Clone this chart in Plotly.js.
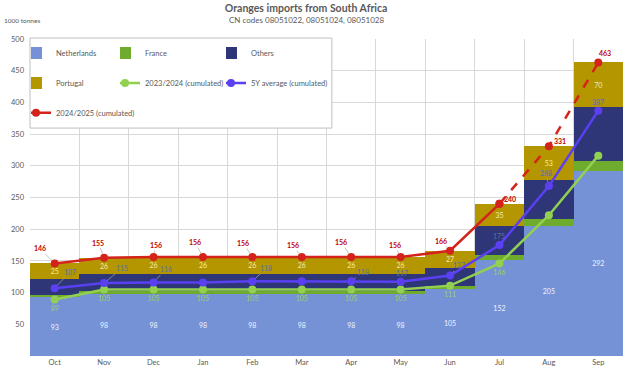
<!DOCTYPE html>
<html>
<head>
<meta charset="utf-8">
<script src="https://cdn.plot.ly/plotly-3.0.1.min.js"></script>
<style>html,body{margin:0;padding:0;background:#fff;}#chart{width:626px;height:372px;}</style>
</head>
<body>
<div id="chart"></div>
<script>
// ---- data ----
const months = ['Oct','Nov','Dec','Jan','Feb','Mar','Apr','May','Jun','Jul','Aug','Sep'];
const netherlands = [93,98,98,98,98,98,98,98,105,152,205,292];
const france = [4,4,4,4,4,4,4,4,5,7,11,16];
const others = [24,27,28,28,28,28,28,28,29,46,62,85];
const portugal = [25,26,26,26,26,26,26,26,27,35,53,70];
const season2324 = [89,105,105,105,105,105,105,105,111,146,222,316];
const avg5y = [107,115,116,116,118,118,118,117,127,175,268,387];
const season2425 = [146,155,156,156,156,156,156,156,166,240,331,463];
const lastSolidIndex = 9; // 2024/2025 line is dashed after Jul
const yTicks = [50,100,150,200,250,300,350,400,450,500];

// which data labels are visible
const greenLabelShown = [1,1,1,1,1,1,1,1,1,1,0,0];
const blueLabelShown  = [1,1,1,0,1,0,1,1,1,1,1,1];

// label offsets (px) for leader-line labels
const redOffsets  = [[-15,-15],[-6,-15],[2,-12],[-8,-15],[-9,-14],[-9,-12],[-10,-15],[-6,-12],[-9,-10],[11,-5],[11,-5],[7,-9]];
const blueOffsets = [[15,-16],[18,-15],[12,-13],[0,-10],[14,-13],[0,-10],[12,-9],[1,-9],[9,-10],[0,-9],[-3,-13],[0,-9]];

// legend placement: [legend id, x (paper), y (paper)]
const legendSlots = {
  'Netherlands':['legend',0.0017,0.956], 'France':['legend2',0.1518,0.956], 'Others':['legend3',0.3305,0.956],
  'Portugal':['legend4',0.0017,0.861], '2023/2024 (cumulated)':['legend5',0.1518,0.861],
  '5Y average (cumulated)':['legend6',0.3305,0.861], '2024/2025 (cumulated)':['legend7',0.0017,0.767]
};

const FONT = 'Lato, "Open Sans", sans-serif';
const GREY = '#595959';
const C = {
  nl:'#7592d6', fr:'#6fac2e', ot:'#2f3677', pt:'#b49600',
  g:'#92d050', b:'#5a40f2', r:'#d3231b'
};

const traces = [
  {type:'bar', name:'Netherlands', x:months, y:netherlands, marker:{color:C.nl},
   text:netherlands.map(String), textposition:'inside', insidetextanchor:'middle', textangle:0,
   textfont:{size:7, color:'#eef2ff', family:FONT}, hoverinfo:'skip'},
  {type:'bar', name:'France', x:months, y:france, marker:{color:C.fr}, textposition:'none', hoverinfo:'skip'},
  {type:'bar', name:'Others', x:months, y:others, marker:{color:C.ot}, textposition:'none', hoverinfo:'skip'},
  {type:'bar', name:'Portugal', x:months, y:portugal, marker:{color:C.pt},
   text:portugal.map(String), textposition:'inside', insidetextanchor:'middle', textangle:0,
   textfont:{size:7, color:'#f6eaa8', family:FONT}, hoverinfo:'skip'},
  {type:'scatter', mode:'lines+markers+text', name:'2023/2024 (cumulated)', x:months, y:season2324,
   line:{color:C.g, width:2.5}, marker:{color:C.g, size:8},
   text:season2324.map((v,i)=>greenLabelShown[i]?String(v):''), textposition:'bottom center',
   textfont:{size:7, color:'#9ccf62', family:FONT}, hoverinfo:'skip'},
  {type:'scatter', mode:'lines+markers', name:'5Y average (cumulated)', x:months, y:avg5y,
   line:{color:C.b, width:2.5}, marker:{color:C.b, size:8}, hoverinfo:'skip'},
  {type:'scatter', mode:'lines+markers', name:'2024/2025 (cumulated)', x:months,
   y:season2425.map((v,i)=>i<=lastSolidIndex?v:null),
   line:{color:C.r, width:2.5}, marker:{color:C.r, size:8}, hoverinfo:'skip'},
  {type:'scatter', mode:'lines+markers', name:'2024/2025 (cumulated)', x:months,
   y:season2425.map((v,i)=>i>=lastSolidIndex?v:null), showlegend:false, legend:'legend7',
   line:{color:C.r, width:2.5, dash:'dash'}, marker:{color:C.r, size:8}, hoverinfo:'skip'}
];
traces.forEach(t=>{ if(t.showlegend!==false && legendSlots[t.name]) t.legend = legendSlots[t.name][0]; });

const annotations = [];
season2425.forEach((v,i)=>{
  annotations.push({x:months[i], y:v, xref:'x', yref:'y', text:'<b>'+v+'</b>',
    showarrow:true, arrowhead:0, arrowwidth:0.7, arrowcolor:'#a6a6a6', standoff:4,
    ax:redOffsets[i][0], ay:redOffsets[i][1],
    font:{size:7, color:'#c00000', family:FONT}});
});
avg5y.forEach((v,i)=>{
  if(!blueLabelShown[i]) return;
  annotations.push({x:months[i], y:v, xref:'x', yref:'y', text:String(v),
    showarrow:true, arrowhead:0, arrowwidth:0.7, arrowcolor:'#a6a6a6', standoff:4,
    ax:blueOffsets[i][0], ay:blueOffsets[i][1],
    font:{size:7, color:'#5470a8', family:FONT}});
});
annotations.push({xref:'paper', yref:'paper', x:0.466, y:1.06, xanchor:'center', yanchor:'middle',
  text:'CN codes 08051022, 08051024, 08051028', showarrow:false,
  font:{size:8, color:GREY, family:FONT}});
annotations.push({xref:'paper', yref:'paper', x:-0.047, y:1.057, xanchor:'left', yanchor:'middle',
  text:'1000 tonnes', showarrow:false, font:{size:6.5, color:GREY, family:FONT}});

const legendCommon = {orientation:'v', xanchor:'left', yanchor:'middle', bgcolor:'rgba(0,0,0,0)',
  borderwidth:0, indentation:-15, font:{size:7.5, color:GREY, family:FONT}};

const layout = {
  width:626, height:372,
  margin:{l:30, r:3, t:39, b:16},
  paper_bgcolor:'#ffffff', plot_bgcolor:'#ffffff',
  barmode:'stack', bargap:0,
  title:{text:'<b>Oranges imports from South Africa</b>', xref:'container', x:0.489, xanchor:'center',
    yref:'container', y:0.978, yanchor:'middle', font:{size:10.5, color:GREY, family:FONT}},
  font:{family:FONT, color:GREY},
  xaxis:{type:'category', tickson:'boundaries', showgrid:true, gridcolor:'#d9d9d9', gridwidth:1,
    ticks:'', showline:false, zeroline:false, tickfont:{size:7.5, color:GREY, family:FONT},
    range:[-0.5, 11.5], fixedrange:true},
  yaxis:{range:[0,500], tickvals:yTicks, showgrid:true, gridcolor:'#d9d9d9', gridwidth:1,
    zeroline:false, showline:false, ticks:'', ticklabelstandoff:5,
    tickfont:{size:7.5, color:GREY, family:FONT}, fixedrange:true},
  shapes:[{type:'rect', xref:'paper', yref:'paper', x0:0, x1:0.509, y0:0.719, y1:1.003,
    fillcolor:'#ffffff', line:{color:'#bfbfbf', width:1}, layer:'above'}],
  annotations: annotations,
  showlegend:true
};
Object.values(legendSlots).forEach(([id,x,y])=>{
  layout[id] = Object.assign({x:x, y:y}, legendCommon);
});

Plotly.newPlot('chart', traces, layout, {displayModeBar:false, staticPlot:true});
</script>
</body>
</html>
